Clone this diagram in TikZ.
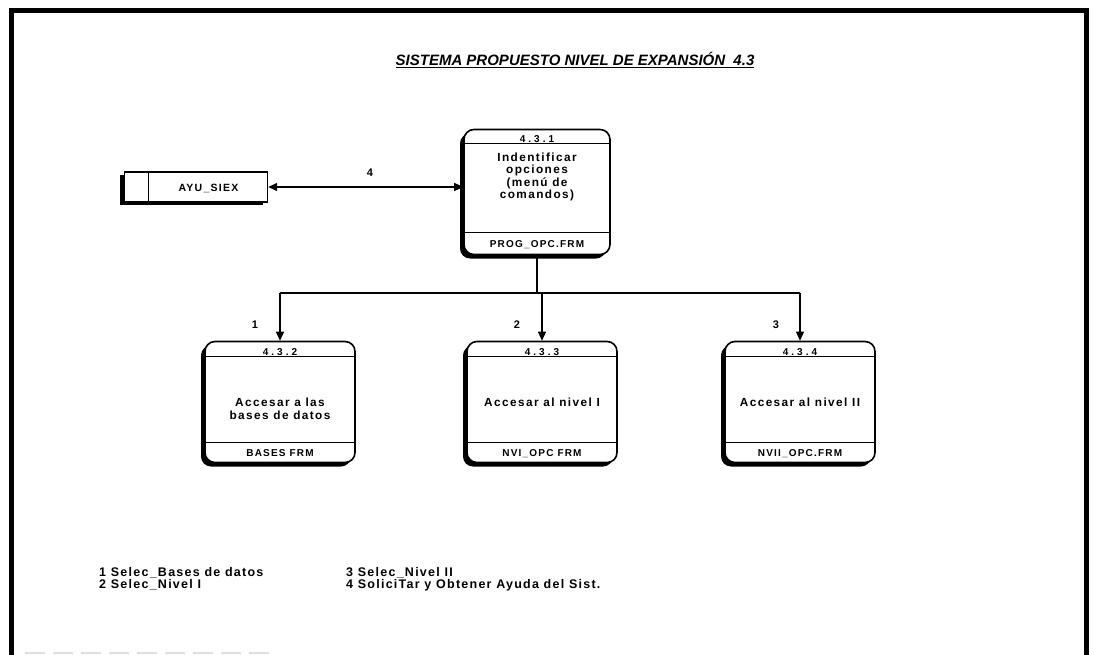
\documentclass[tikz,border=0pt]{standalone}
\usepackage{fontspec}
\setmainfont{Liberation Sans}
\newfontfamily\spaced[LetterSpace=12]{Liberation Sans}
\newfontfamily\wide[LetterSpace=30]{Liberation Sans}
\newfontfamily\legfont[LetterSpace=10]{Liberation Sans}
\usetikzlibrary{arrows.meta,shadows,calc}
\begin{document}
\begin{tikzpicture}[x=1pt,y=-1pt,
  every node/.style={inner sep=0pt},
  proc/.style={draw, line width=1.6pt, rounded corners=10pt, fill=white,
    minimum width=150pt, minimum height=121pt,
    drop shadow={shadow xshift=-4pt, shadow yshift=-4pt, opacity=1, fill=black}},
  store/.style={draw, line width=1.4pt, fill=white,
    minimum width=143pt, minimum height=30pt,
    drop shadow={shadow xshift=-5pt, shadow yshift=-3pt, opacity=1, fill=black}},
  sep/.style={line width=1.2pt},
  line/.style={line width=1.3pt},
  tip/.tip={Triangle[length=9pt,width=8pt]},
  flow/.style={line, -tip},
  ptitle/.style={font=\wide\bfseries\fontsize{10}{12}\selectfont, anchor=base},
  pbody/.style={font=\spaced\bfseries\fontsize{11.8}{12.5}\selectfont, align=center},
  pfoot/.style={font=\spaced\bfseries\fontsize{10}{12}\selectfont},
  flabel/.style={font=\bfseries\fontsize{11}{13}\selectfont},
  legend/.style={font=\legfont\bfseries\fontsize{12.5}{12.5}\selectfont, align=left, anchor=north west}
]
\useasboundingbox (0,0) rectangle (1094,655);

% page frame
\draw[line width=5pt] (11,655) -- (11,11) -- (1086,11) -- (1086,655);
\draw[gray!25, line width=2pt, dash pattern=on 20pt off 8pt] (25,653) -- (275,653);

% heading
\node[font=\bfseries\itshape\fontsize{15}{17}\selectfont] (title) at (575,60)
  {\underline{SISTEMA PROPUESTO NIVEL DE EXPANSIÓN\ \ 4.3}};

% data store
\node[store] (s) at (196,187) {};
\draw[sep] ($(s.north west)+(25,0)$) -- ($(s.south west)+(25,0)$);
\node[font=\spaced\bfseries\fontsize{10.5}{12}\selectfont] (stxt) at ($(s.center)+(12.5,1)$) {AYU\_SIEX};

% process 4.3.1
\node[proc, minimum width=146pt, minimum height=125pt] (p1) at (537,192) {};
\draw[sep] ($(p1.north west)+(0,15)$) -- ($(p1.north east)+(0,15)$);
\draw[sep] ($(p1.south west)+(0,-23)$) -- ($(p1.south east)+(0,-23)$);
\node[ptitle] (p1n) at ($(p1.north)+(0,13.5)$) {4.3.1};
\node[pbody] (p1b) at (537,177) {Indentificar\\opciones\\(menú de\\comandos)};
\node[pfoot] (p1f) at ($(p1.south)+(0,-11)$) {PROG\_OPC.FRM};

% process 4.3.2
\node[proc] (p2) at (280,402) {};
\draw[sep] ($(p2.north west)+(0,16)$) -- ($(p2.north east)+(0,16)$);
\draw[sep] ($(p2.south west)+(0,-21)$) -- ($(p2.south east)+(0,-21)$);
\node[ptitle] (p2n) at ($(p2.north)+(0,14.5)$) {4.3.2};
\node[pbody] (p2b) at (280,409) {Accesar a las\\bases de datos};
\node[pfoot] (p2f) at ($(p2.south)+(0,-10)$) {BASES FRM};

% process 4.3.3
\node[proc] (p3) at (542,402) {};
\draw[sep] ($(p3.north west)+(0,16)$) -- ($(p3.north east)+(0,16)$);
\draw[sep] ($(p3.south west)+(0,-21)$) -- ($(p3.south east)+(0,-21)$);
\node[ptitle] (p3n) at ($(p3.north)+(0,14.5)$) {4.3.3};
\node[pbody] (p3b) at (542,402) {Accesar al nivel I};
\node[pfoot] (p3f) at ($(p3.south)+(0,-10)$) {NVI\_OPC FRM};

% process 4.3.4
\node[proc] (p4) at (800,402) {};
\draw[sep] ($(p4.north west)+(0,16)$) -- ($(p4.north east)+(0,16)$);
\draw[sep] ($(p4.south west)+(0,-21)$) -- ($(p4.south east)+(0,-21)$);
\node[ptitle] (p4n) at ($(p4.north)+(0,14.5)$) {4.3.4};
\node[pbody] (p4b) at (800,402) {Accesar al nivel II};
\node[pfoot] (p4f) at ($(p4.south)+(0,-10)$) {NVII\_OPC.FRM};

% flows
\draw[line, tip-tip] (s.east) -- (s.east -| p1.west);
\node[flabel] (l4) at (370,173) {4};

\coordinate (bus) at (0,293);
\draw[line] (p1.south) -- (p1.south |- bus);
\draw[line] (p2.north |- bus) -- (p4.north |- bus);
\draw[flow] (p2.north |- bus) -- (p2.north);
\draw[flow] (p3.north |- bus) -- (p3.north);
\draw[flow] (p4.north |- bus) -- (p4.north);
\node[flabel] (l1) at (255,325) {1};
\node[flabel] (l2) at (517,325) {2};
\node[flabel] (l3) at (776,325) {3};

% legend
\node[legend] (lg1) at (99,567) {1 Selec\_Bases de datos\\2 Selec\_Nivel I};
\node[legend] (lg2) at (346,567) {3 Selec\_Nivel II\\4 SoliciTar y Obtener Ayuda del Sist.};
\end{tikzpicture}
\end{document}
